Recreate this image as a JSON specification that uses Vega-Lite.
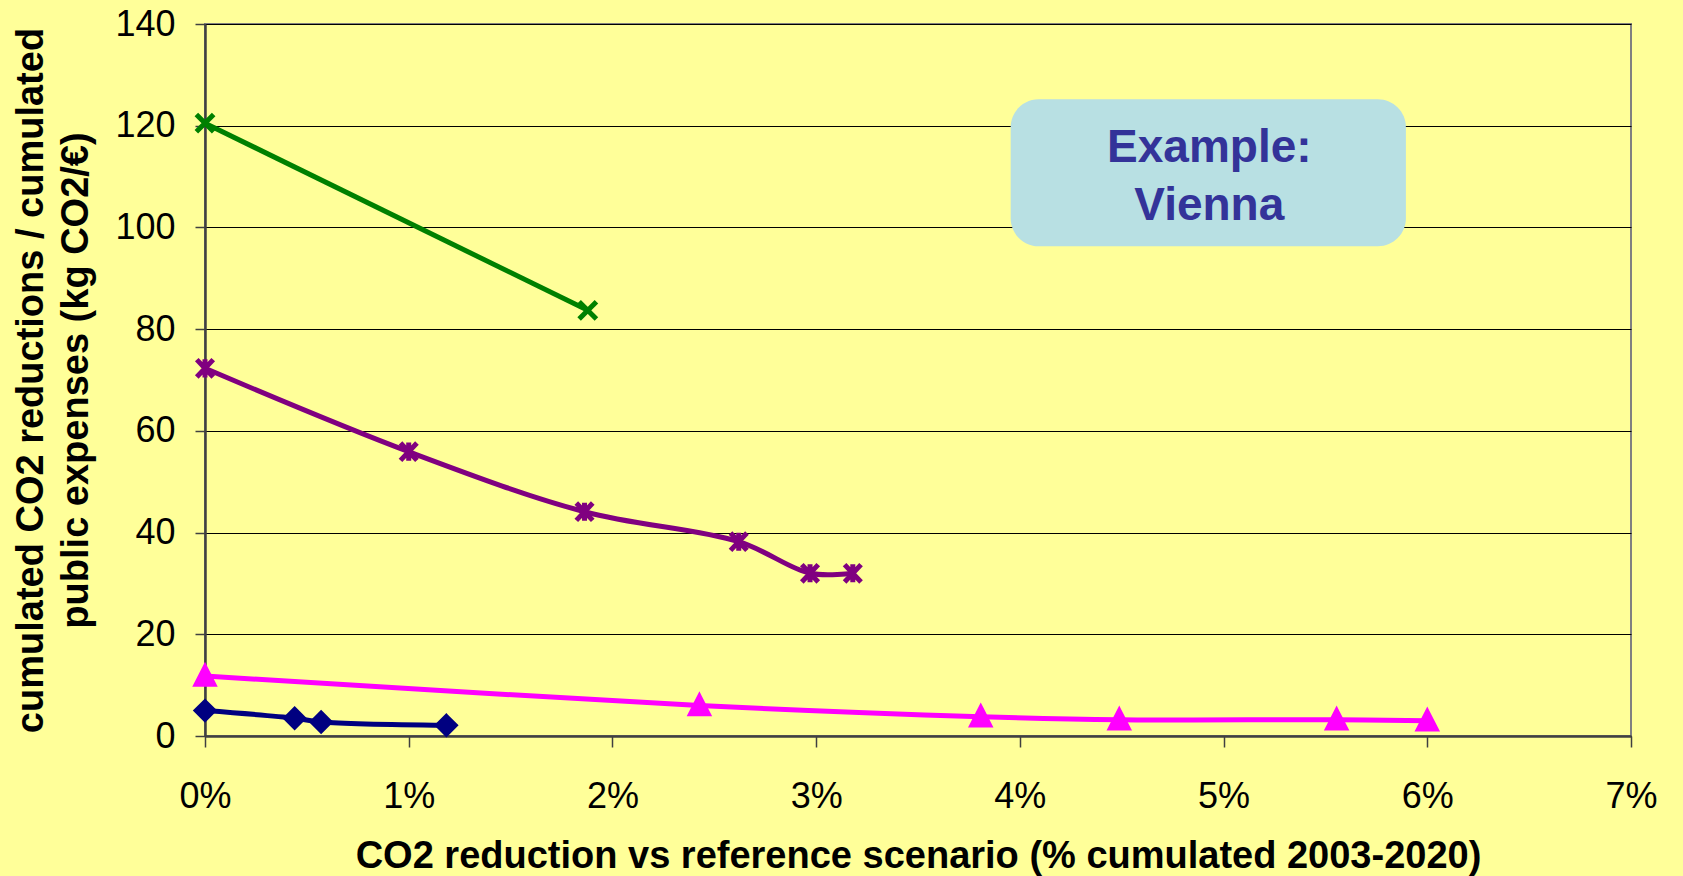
{
  "$schema": "https://vega.github.io/schema/vega-lite/v6.json",
  "width": 1426,
  "height": 712,
  "autosize": {"type": "none"},
  "padding": {"left": 205, "top": 24, "right": 52, "bottom": 140},
  "background": "#FFFF99",
  "config": {
    "font": "Liberation Sans",
    "view": {"stroke": "#808080", "strokeWidth": 2},
    "axis": {
      "labelFont": "Liberation Sans",
      "titleFont": "Liberation Sans",
      "labelColor": "#000000",
      "titleColor": "#000000",
      "domainColor": "#404040",
      "domainWidth": 2.5,
      "tickColor": "#404040",
      "tickWidth": 1.5,
      "gridColor": "#000000",
      "gridWidth": 1.2,
      "gridOpacity": 1
    }
  },
  "datasets": {
    "series": [
      {"s": "diamond", "x": 0, "y": 5.0},
      {"s": "diamond", "x": 0.0044, "y": 3.5},
      {"s": "diamond", "x": 0.0057, "y": 2.75},
      {"s": "diamond", "x": 0.01185, "y": 2.1},
      {"s": "triangle", "x": 0, "y": 11.8},
      {"s": "triangle", "x": 0.02427, "y": 6.0},
      {"s": "triangle", "x": 0.03808, "y": 3.8},
      {"s": "triangle", "x": 0.04488, "y": 3.2},
      {"s": "triangle", "x": 0.05555, "y": 3.2},
      {"s": "triangle", "x": 0.06, "y": 3.0},
      {"s": "asterisk", "x": 0, "y": 72.3},
      {"s": "asterisk", "x": 0.01, "y": 55.9},
      {"s": "asterisk", "x": 0.01863, "y": 44.1},
      {"s": "asterisk", "x": 0.0262, "y": 38.2},
      {"s": "asterisk", "x": 0.0297, "y": 32.0},
      {"s": "asterisk", "x": 0.0318, "y": 32.0},
      {"s": "x", "x": 0, "y": 120.5},
      {"s": "x", "x": 0.01879, "y": 83.7}
    ],
    "box": [
      {"x": 0.03955, "x2": 0.05895, "y": 125.2, "y2": 96.3}
    ],
    "label": [
      {"t": "Example:", "x": 0.0493, "y": 112.9},
      {"t": "Vienna", "x": 0.0493, "y": 101.4}
    ]
  },
  "layer": [
    {
      "data": {"name": "box"},
      "mark": {"type": "rect", "fill": "#B8E0E3", "cornerRadius": 28},
      "encoding": {
        "x": {"field": "x", "type": "quantitative", "scale": {"domain": [0, 0.07], "nice": false},
          "axis": {
            "values": [0, 0.01, 0.02, 0.03, 0.04, 0.05, 0.06, 0.07],
            "format": ".0%",
            "grid": false,
            "labelFlush": false,
            "labelFontSize": 36,
            "tickSize": 11,
            "labelPadding": 32,
            "title": "CO2 reduction vs reference scenario (% cumulated 2003-2020)",
            "titleFontSize": 38,
            "titleFontWeight": "bold",
            "titleBaseline": "alphabetic",
            "titleY": 131
          }},
        "x2": {"field": "x2"},
        "y": {"field": "y", "type": "quantitative", "scale": {"domain": [0, 140], "nice": false},
          "axis": {
            "values": [0, 20, 40, 60, 80, 100, 120, 140],
            "grid": true,
            "labelFlush": false,
            "labelFontSize": 36,
            "tickSize": 10,
            "labelPadding": 20,
            "title": ["cumulated CO2 reductions / cumulated", "public expenses (kg CO2/€)"],
            "titleFontSize": 38,
            "titleFontWeight": "bold",
            "titleAngle": -90,
            "titleBaseline": "alphabetic",
            "titleAlign": "center",
            "titleLineHeight": 45,
            "titleX": -163,
            "titleY": 356
          }},
        "y2": {"field": "y2"}
      }
    },
    {
      "data": {"name": "label"},
      "mark": {"type": "text", "font": "Liberation Sans", "fontWeight": "bold", "fontSize": 46, "color": "#333399", "align": "center", "baseline": "alphabetic"},
      "encoding": {
        "x": {"field": "x", "type": "quantitative"},
        "y": {"field": "y", "type": "quantitative"},
        "text": {"field": "t"}
      }
    },
    {
      "data": {"name": "series"},
      "mark": {"type": "line", "interpolate": "catmull-rom"},
      "encoding": {
        "x": {"field": "x", "type": "quantitative"},
        "y": {"field": "y", "type": "quantitative"},
        "color": {"field": "s", "type": "nominal", "legend": null,
          "scale": {"domain": ["diamond", "triangle", "asterisk", "x"], "range": ["#000080", "#FF00FF", "#800080", "#008000"]}},
        "strokeWidth": {"field": "s", "type": "nominal", "legend": null,
          "scale": {"domain": ["diamond", "triangle", "asterisk", "x"], "range": [5, 5, 5, 4.5]}}
      }
    },
    {
      "data": {"name": "series"},
      "mark": {"type": "point", "filled": true, "opacity": 1},
      "encoding": {
        "x": {"field": "x", "type": "quantitative"},
        "y": {"field": "y", "type": "quantitative"},
        "shape": {"field": "s", "type": "nominal", "legend": null,
          "scale": {"domain": ["diamond", "triangle", "asterisk", "x"],
            "range": ["M0,-1L1,0L0,1L-1,0Z", "M0,-1L1,0.95L-1,0.95Z", "M-0.95,-1L0.95,1M-0.95,1L0.95,-1M0,-1.05L0,1.05", "M-1,-1L1,1M-1,1L1,-1"]}},
        "size": {"field": "s", "type": "nominal", "legend": null,
          "scale": {"domain": ["diamond", "triangle", "asterisk", "x"], "range": [300, 300, 324, 310]}},
        "strokeWidth": {"field": "s", "type": "nominal", "legend": null,
          "scale": {"domain": ["diamond", "triangle", "asterisk", "x"], "range": [1, 1, 1.8, 1.8]}},
        "fill": {"field": "s", "type": "nominal", "legend": null,
          "scale": {"domain": ["diamond", "triangle", "asterisk", "x"], "range": ["#000080", "#FF00FF", "#800080", "#008000"]}},
        "stroke": {"field": "s", "type": "nominal", "legend": null,
          "scale": {"domain": ["diamond", "triangle", "asterisk", "x"], "range": ["#000080", "#FF00FF", "#800080", "#008000"]}}
      }
    }
  ]
}
